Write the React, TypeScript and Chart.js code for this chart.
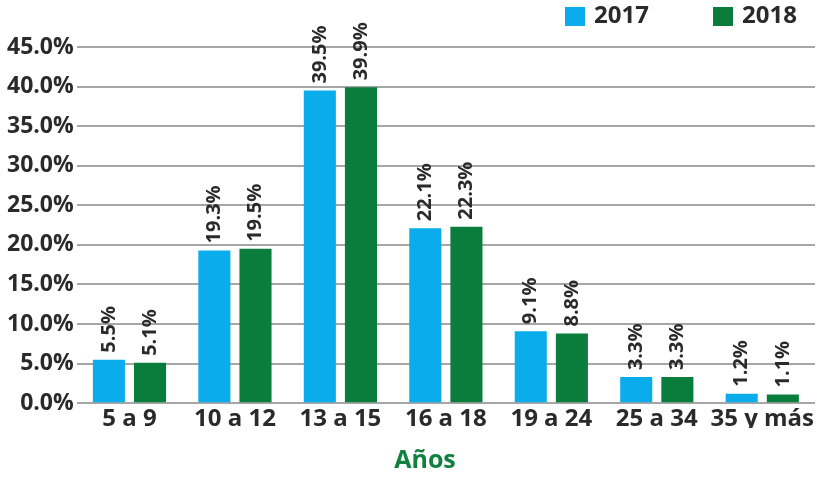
import React, { useEffect, useRef } from "react";
import { Chart, registerables } from "chart.js";

Chart.register(...registerables);

const categories = ["5 a 9", "10 a 12", "13 a 15", "16 a 18", "19 a 24", "25 a 34", "35 y más"];
const series2017 = [5.5, 19.3, 39.5, 22.1, 9.1, 3.3, 1.2];
const series2018 = [5.1, 19.5, 39.9, 22.3, 8.8, 3.3, 1.1];
const seriesNames = ["2017", "2018"];
const seriesColors = ["#0AACEC", "#0A7D3C"];
const axisTitle = "Años";

const TEXT = "#2a2a2a";
const FONT = "'Open Sans', 'DejaVu Sans', sans-serif";

// Rotated value labels above each bar
const valueLabels = {
  id: "valueLabels",
  afterDatasetsDraw(chart: any) {
    const ctx = chart.ctx;
    ctx.save();
    ctx.fillStyle = TEXT;
    ctx.font = `bold 20px ${FONT}`;
    ctx.textAlign = "left";
    ctx.textBaseline = "middle";
    chart.data.datasets.forEach((ds: any, di: number) => {
      const meta = chart.getDatasetMeta(di);
      meta.data.forEach((bar: any, i: number) => {
        const v = ds.data[i] as number;
        ctx.save();
        ctx.translate(bar.x, bar.y - 7);
        ctx.rotate(-Math.PI / 2);
        ctx.fillText(v.toFixed(1) + "%", 0, 0);
        ctx.restore();
      });
    });
    ctx.restore();
  },
};

// Legend in the top right corner and the category axis title
const decorations = {
  id: "decorations",
  afterDraw(chart: any) {
    const ctx = chart.ctx;
    ctx.save();
    ctx.font = `bold 24px ${FONT}`;
    ctx.textBaseline = "middle";
    ctx.textAlign = "left";
    const starts = [565, 713];
    seriesNames.forEach((name, i) => {
      const x = starts[i];
      ctx.fillStyle = seriesColors[i];
      ctx.fillRect(x, 7, 20, 19);
      ctx.fillStyle = TEXT;
      ctx.fillText(name, x + 29, 16);
    });
    ctx.font = `bold 25px ${FONT}`;
    ctx.textAlign = "center";
    ctx.fillStyle = "#11803F";
    ctx.fillText(axisTitle, 425, 461);
    ctx.restore();
  },
};

export default function App() {
  const ref = useRef<HTMLCanvasElement | null>(null);

  useEffect(() => {
    document.body.style.margin = "0";
    const canvas = ref.current!;
    const chart = new Chart(canvas, {
      type: "bar",
      data: {
        labels: categories,
        datasets: [
          {
            label: seriesNames[0],
            data: series2017,
            backgroundColor: seriesColors[0],
            categoryPercentage: 0.78,
            barPercentage: 0.78,
          },
          {
            label: seriesNames[1],
            data: series2018,
            backgroundColor: seriesColors[1],
            categoryPercentage: 0.78,
            barPercentage: 0.78,
          },
        ],
      },
      options: {
        animation: false,
        responsive: false,
        maintainAspectRatio: false,
        layout: { padding: { top: 47, right: 3, left: 4, bottom: 52 } },
        plugins: {
          legend: { display: false },
          tooltip: { enabled: false },
        },
        scales: {
          x: {
            grid: { display: false },
            border: { display: false },
            ticks: {
              color: TEXT,
              font: { family: FONT, size: 24, weight: "bold" },
              padding: -6,
              maxRotation: 0,
              minRotation: 0,
              autoSkip: false,
            },
          },
          y: {
            min: 0,
            max: 45,
            border: { display: false },
            grid: { color: "#a6a6a6", lineWidth: 2, drawTicks: false },
            ticks: {
              stepSize: 5,
              color: TEXT,
              font: { family: FONT, size: 23, weight: "bold" },
              padding: 3,
              callback: (v: any) => Number(v).toFixed(1) + "%",
            },
          },
        },
      },
      plugins: [valueLabels, decorations],
    });
    return () => chart.destroy();
  }, []);

  return (
    <div style={{ width: 818, height: 480, background: "#fff" }}>
      <canvas ref={ref} width={818} height={480} style={{ display: "block" }} />
    </div>
  );
}
